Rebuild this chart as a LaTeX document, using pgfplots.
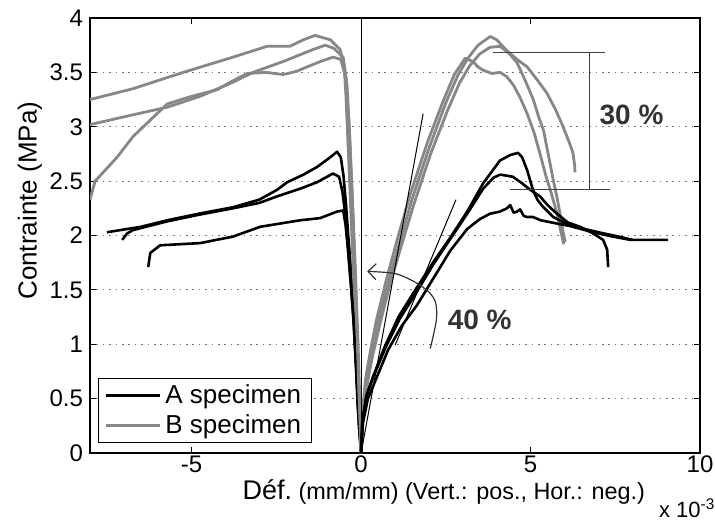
\documentclass[border=0pt]{standalone}
\usepackage{fontspec}
\setmainfont{Liberation Sans}
\usepackage{pgfplots}
\pgfplotsset{compat=1.18}
\usetikzlibrary{arrows.meta}
\pgfplotsset{
  specA/.style={black, line width=1.3pt, line join=round},
  specB/.style={black!47, line width=1.4pt, line join=round},
}
\begin{document}
\begin{tikzpicture}
\begin{axis}[
  scale only axis, width=305pt, height=217.5pt,
  xmin=-8, xmax=10, ymin=0, ymax=4,
  xtick={-5,0,5,10},
  ytick={0,0.5,1,1.5,2,2.5,3,3.5,4},
  no markers,
  /pgf/number format/assume math mode=true,
  tick label style={font=\fontsize{12}{14}\selectfont},
  xticklabel style={yshift=2pt},
  tick align=inside, major tick length=3pt,
  tick style={black, line width=0.6pt},
  axis line style={line width=0.8pt},
  ymajorgrids,
  grid style={black!55, dash pattern=on 0.8pt off 2.4pt},
  xlabel={{\fontsize{13.5}{15}\selectfont Déf.}\ (mm/mm) (Vert.: pos., Hor.: neg.)},
  xlabel style={font=\fontsize{11.7}{13}\selectfont, at={(axis description cs:0.58,-0.0897)}, anchor=center},
  ylabel={Contrainte (MPa)},
  ylabel style={font=\fontsize{13}{15}\selectfont, at={(axis description cs:-0.0984,0.58)}, anchor=center},
  legend style={at={(rel axis cs:0.013,0.023)}, anchor=south west, draw=black,
    line width=0.6pt, font=\fontsize{13}{14.5}\selectfont, inner xsep=3pt, inner ysep=1pt},
  legend cell align=left,
  legend image code/.code={\draw[#1] (0pt,0pt) -- (27pt,0pt);},
]

% A specimen, horizontal strain (negative)
\addplot[specA] coordinates {
  (-7.5,2.03) (-6.5,2.08) (-5.72,2.14) (-4.8,2.2) (-3.78,2.26) (-3.0,2.33)
  (-2.48,2.42) (-2.18,2.49) (-1.7,2.56) (-1.3,2.63) (-0.95,2.71) (-0.71,2.77)
  (-0.6,2.72) (-0.52,2.55) (-0.45,2.3) (-0.38,2.0) (-0.3,1.68) (-0.23,1.35)
  (-0.17,1.0) (-0.11,0.6) (-0.06,0.25) (0,0)
};
% B specimen, horizontal strain (negative)
\addplot[specB] coordinates {
  (-8,3.25) (-6.73,3.35) (-5.25,3.5) (-3.78,3.64) (-2.77,3.74) (-2.1,3.74)
  (-1.7,3.8) (-1.36,3.84) (-0.91,3.8) (-0.62,3.71) (-0.5,3.55) (-0.45,3.3)
  (-0.38,2.8) (-0.3,2.2) (-0.22,1.6) (-0.15,1.0) (-0.08,0.5) (0,0)
};
\legend{A specimen, B specimen}

\addplot[specA, forget plot] coordinates {
  (-7.05,1.96) (-6.9,2.02) (-6.73,2.05) (-5.72,2.13) (-4.8,2.19) (-3.78,2.25)
  (-3.0,2.3) (-2.48,2.36) (-1.8,2.43) (-1.3,2.49) (-0.83,2.57) (-0.65,2.54)
  (-0.55,2.4) (-0.47,2.2) (-0.39,1.9) (-0.3,1.55) (-0.22,1.2) (-0.15,0.8)
  (-0.1,0.45) (-0.05,0.2) (0,0)
};
\addplot[specA, forget plot] coordinates {
  (-6.28,1.71) (-6.25,1.78) (-6.22,1.84) (-5.93,1.91) (-4.75,1.93) (-3.78,1.99)
  (-2.98,2.08) (-1.8,2.14) (-1.21,2.16) (-0.71,2.22) (-0.53,2.23) (-0.46,2.1)
  (-0.39,1.88) (-0.31,1.58) (-0.23,1.25) (-0.16,0.85) (-0.1,0.45) (-0.05,0.2) (0,0)
};
\addplot[specB, forget plot] coordinates {
  (-8,3.02) (-6.73,3.11) (-5.72,3.18) (-4.75,3.28) (-3.78,3.41) (-3.19,3.5)
  (-2.3,3.6) (-1.42,3.71) (-1.06,3.75) (-0.8,3.72) (-0.53,3.64) (-0.42,3.4)
  (-0.35,3.0) (-0.27,2.4) (-0.18,1.7) (-0.12,1.1) (-0.06,0.5) (0,0)
};
\addplot[specB, forget plot] coordinates {
  (-8,2.33) (-7.85,2.5) (-7.2,2.72) (-6.73,2.91) (-5.72,3.21) (-5.0,3.28)
  (-4.25,3.34) (-3.8,3.42) (-3.36,3.49) (-2.8,3.5) (-2.3,3.48) (-1.9,3.51)
  (-1.6,3.55) (-1.2,3.6) (-0.83,3.64) (-0.6,3.62) (-0.45,3.45) (-0.35,3.0)
  (-0.25,2.3) (-0.16,1.6) (-0.09,1.0) (-0.03,0.4) (0,0)
};

% B specimen, vertical strain (positive)
\addplot[specB, forget plot] coordinates {
  (0,0) (0.05,0.35) (0.15,0.65) (0.3,0.9) (0.5,1.2) (0.8,1.57) (1.15,1.95)
  (1.5,2.33) (2.0,2.8) (2.5,3.22) (2.85,3.47) (3.15,3.63) (3.45,3.75) (3.81,3.83)
  (4.0,3.8) (4.3,3.7) (4.6,3.62) (4.9,3.55) (5.2,3.43) (5.48,3.31) (5.75,3.15)
  (5.96,3.0) (6.15,2.85) (6.25,2.76) (6.3,2.65) (6.31,2.58)
};
\addplot[specB, forget plot] coordinates {
  (0,0) (0.06,0.33) (0.17,0.62) (0.33,0.88) (0.55,1.18) (0.85,1.55) (1.2,1.92)
  (1.55,2.28) (2.05,2.75) (2.55,3.15) (2.9,3.4) (3.2,3.56) (3.5,3.67) (3.8,3.73)
  (4.1,3.74) (4.35,3.68) (4.6,3.59) (4.85,3.42) (5.08,3.25) (5.25,3.08)
  (5.38,2.97) (5.52,2.75) (5.67,2.51) (5.78,2.35) (5.87,2.2) (5.95,2.05) (6.02,1.94)
};
\addplot[specB, forget plot] coordinates {
  (0,0) (0.04,0.38) (0.13,0.68) (0.27,0.93) (0.45,1.22) (0.75,1.6) (1.1,2.0)
  (1.45,2.38) (1.95,2.85) (2.4,3.22) (2.75,3.48) (3.07,3.63) (3.3,3.6) (3.45,3.55)
  (3.6,3.52) (3.86,3.49) (4.1,3.5) (4.3,3.46) (4.5,3.38) (4.69,3.27) (4.9,3.12)
  (5.1,2.95) (5.28,2.75) (5.45,2.55) (5.62,2.38) (5.78,2.2) (5.9,2.03) (5.98,1.92)
};

% A specimen, vertical strain (positive)
\addplot[specA, forget plot] coordinates {
  (0,0) (0.03,0.28) (0.15,0.52) (0.35,0.7) (0.7,0.98) (1.1,1.25) (1.6,1.5)
  (2.12,1.75) (2.63,1.98) (3.13,2.22) (3.6,2.48) (4.1,2.69) (4.4,2.74) (4.63,2.76)
  (4.75,2.72) (4.9,2.6) (5.07,2.42) (5.2,2.33) (5.35,2.27) (5.67,2.17) (6.25,2.08)
  (6.84,2.03) (7.43,1.99) (7.94,1.96) (9.06,1.96)
};
\addplot[specA, forget plot] coordinates {
  (0,0) (0.04,0.3) (0.17,0.54) (0.36,0.7) (0.75,0.99) (1.15,1.24) (1.64,1.48)
  (2.12,1.73) (2.42,1.87) (3.13,2.2) (3.6,2.43) (3.9,2.53) (4.1,2.56) (4.3,2.55)
  (4.48,2.54) (4.75,2.48) (4.99,2.42) (5.28,2.36) (5.5,2.28) (5.78,2.2) (6.1,2.12)
  (6.46,2.08) (6.84,2.02) (7.14,1.96) (7.26,1.87) (7.29,1.71)
};
\addplot[specA, forget plot] coordinates {
  (0,0) (0.05,0.27) (0.2,0.5) (0.4,0.65) (0.8,0.95) (1.2,1.17) (1.65,1.36)
  (2.12,1.6) (2.63,1.86) (3.13,2.06) (3.5,2.15) (3.8,2.2) (4.1,2.22) (4.3,2.25)
  (4.4,2.28) (4.5,2.21) (4.6,2.22) (4.69,2.24) (4.8,2.18) (4.9,2.17) (5.07,2.17)
  (5.3,2.14) (5.78,2.11) (6.46,2.07) (7.0,2.03) (7.6,1.99) (8.0,1.96)
};

% zero line and tangents
\draw[black, line width=0.5pt] (0,0) -- (0,4);
\draw[black, line width=0.5pt] (0,0) -- (1.83,3.12);
\draw[black, line width=0.5pt] (1.0,0.99) -- (2.8,2.33);

% 30 % bracket
\draw[black!75, line width=0.6pt] (3.89,3.68) -- (7.2,3.68);
\draw[black!75, line width=0.6pt] (4.4,2.42) -- (7.35,2.42);
\draw[black!75, line width=0.6pt] (6.73,3.68) -- (6.73,2.42);
\node[font=\bfseries\fontsize{14}{16}\selectfont, text=black!80] at (7.98,3.11) {30 \%};

% 40 % arrow
\draw[black!80, line width=0.6pt, -{Straight Barb[length=4pt,width=8pt]}]
  plot[smooth] coordinates {(2.04,0.96) (2.22,1.22) (2.2,1.38) (2.0,1.48) (1.6,1.57) (1.0,1.65) (0.18,1.67)};
\node[font=\bfseries\fontsize{14}{16}\selectfont, text=black!80] at (3.5,1.22) {40 \%};
\end{axis}
\node[font=\fontsize{11}{13}\selectfont, anchor=base west] at ([shift={(-24pt,-32pt)}]current axis.south east) {x 10\textsuperscript{-3}};
\pgfresetboundingbox
\path ([shift={(-45pt,-33.5pt)}]current axis.south west) rectangle ([shift={(7.5pt,9pt)}]current axis.north east);
\end{tikzpicture}
\end{document}
